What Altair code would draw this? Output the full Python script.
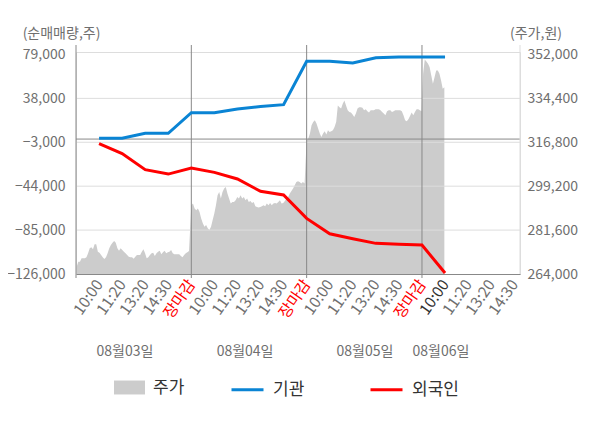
import altair as alt
import pandas as pd
import numpy as np

FONT = "Noto Sans CJK KR"

# ---- data ----
time_labels = ["10:00", "11:20", "13:20", "14:30", "장마감",
               "10:00", "11:20", "13:20", "14:30", "장마감",
               "10:00", "11:20", "13:20", "14:30", "장마감",
               "10:00", "11:20", "13:20", "14:30"]
tick_pos = list(range(1, 20))

line_pos = list(range(1, 17))
inst = [700, 700, 5400, 5400, 24600, 24600, 28000, 30500, 32100,
        72700, 72700, 71100, 76000, 76700, 76700, 76700]
foreign = [-4200, -13600, -28600, -32700, -27000, -31100, -37300, -48800, -52200,
           -74100, -88400, -93000, -97400, -98300, -99000, -125000]

price_day1 = [266900, 268900, 268900, 270300, 270300, 270300, 270700, 272300, 274300, 274700,
              273900, 275900, 275900, 272900, 272500, 271600, 270700, 270000, 270700, 272300,
              274300, 275600, 276500, 277200, 276500, 274300, 273300, 274300, 273600, 272900,
              272300, 271600, 270900, 270700, 270700, 270100, 270900, 271600, 271600, 271600,
              272900, 273900, 272300, 270300, 270700, 271600, 272300, 272500, 271200, 272300,
              272900, 273300, 271900, 272700, 273300, 272300, 272700, 272900, 273600, 272300,
              271900, 271900, 271900, 271900, 271200, 270700, 271600, 272300, 272700, 273200]
price_day2 = [291600, 292300, 290300, 289600, 290300, 288900, 286300, 284300, 282900, 283600,
              282300, 281600, 282900, 285600, 288300, 291600, 295600, 296900, 294300, 296900,
              298300, 298900, 296300, 294300, 292300, 292900, 292900, 293600, 294900, 294300,
              295600, 294300, 294900, 293600, 294300, 292900, 293300, 292500, 292900, 291200,
              290900, 290700, 290900, 291200, 291600, 291200, 292300, 291600, 292500, 291600,
              292300, 292500, 292300, 292900, 293600, 292300, 292500, 293300, 294300, 294900,
              296300, 297300, 298300, 299600, 300900, 301200, 300900, 300300, 300900, 300300]
price_day3 = [317600, 318300, 320300, 323600, 324900, 325600, 324300, 322300, 320300, 318900,
              320300, 321200, 319900, 321600, 320900, 321200, 321600, 322900, 324900, 331600,
              330900, 330300, 332300, 333600, 331600, 329600, 328900, 328700, 327900, 326900,
              328300, 330300, 330900, 330900, 330700, 329600, 330000, 329200, 328700, 329600,
              329600, 329600, 330000, 330000, 330000, 329600, 328900, 328300, 327600, 329200,
              329600, 329600, 328900, 329200, 329600, 329600, 329600, 329600, 329200, 327600,
              325600, 325200, 326000, 327300, 328700, 327600, 328900, 330000, 330000, 329600, 329200]
price_day4 = [344300, 350000, 349200, 348300, 346900, 343600, 340300, 342900, 345600, 345600,
              344300, 341600, 338300, 338900]
day_spans = [(0.03, 4.9), (5.0, 9.91), (10.0, 14.98), (15.05, 15.97)]

date_labels = ["08월03일", "08월04일", "08월05일", "08월06일"]
date_pos = [2.12, 7.33, 12.53, 15.82]
day_bounds = [0, 5, 10, 15]
x_max = 19.25

left_ticks = [-126000, -85000, -44000, -3000, 38000, 79000]
right_ticks = [264000, 281600, 299200, 316800, 334400, 352000]
grid_vals = [-85000, -44000, -3000, 38000]

# ---- tables ----
pxs, pvs = [], []
for vals, (s, e) in zip([price_day1, price_day2, price_day3, price_day4], day_spans):
    pxs.extend(np.linspace(s, e, len(vals)).tolist())
    pvs.extend(vals)
price_df = pd.DataFrame({"x": pxs, "price": pvs, "series": "주가"})

lines_df = pd.concat([
    pd.DataFrame({"x": line_pos, "value": inst, "series": "기관"}),
    pd.DataFrame({"x": line_pos, "value": foreign, "series": "외국인"}),
])
dates_df = pd.DataFrame({"x": date_pos, "label": date_labels})
bounds_df = pd.DataFrame({"x": day_bounds})
edge_df = pd.DataFrame({"x": [x_max]})
grid_df = pd.DataFrame({"v": grid_vals})
zero_df = pd.DataFrame({"v": [0]})

W, H = 444, 222
xscale = alt.Scale(domain=[0, x_max], nice=False, zero=False)
yl = alt.Scale(domain=[-126000, 81300], nice=False, zero=False)
yr = alt.Scale(domain=[264000, 353000], nice=False, zero=False)

label_expr = "[" + ",".join("'%s'" % t for t in time_labels) + "][datum.value - 1]"
x_axis = alt.Axis(
    values=tick_pos, labelExpr=label_expr, labelAngle=-55, labelFontSize=15.5,
    labelFont=FONT, labelOverlap=False, labelPadding=7, ticks=False, grid=False,
    domainColor="#888888", title=None,
    labelColor={"condition": [{"test": "datum.value % 5 == 0", "value": "#ff0000"},
                              {"test": "datum.value == 16", "value": "#333333"}],
                "value": "#6f6f6f"},
)
left_axis = alt.Axis(
    orient="left", values=left_ticks, format=",d", domain=False, ticks=False, grid=False,
    labelFontSize=14, labelFont=FONT, labelColor="#6f6f6f", labelPadding=11,
    title="(순매매량,주)", titleAngle=0, titleX=-15, titleY=-19, titleAlign="center",
    titleBaseline="middle", titleFontSize=14, titleFontWeight="normal", titleFont=FONT,
    titleColor="#6f6f6f",
)
right_axis = alt.Axis(
    orient="right", values=right_ticks, format=",d", domain=False, ticks=False, grid=False,
    labelFontSize=14, labelFont=FONT, labelColor="#6f6f6f", labelPadding=7,
    title="(주가,원)", titleAngle=0, titleX=15.5, titleY=-19, titleAlign="center",
    titleBaseline="middle", titleFontSize=14, titleFontWeight="normal", titleFont=FONT,
    titleColor="#6f6f6f",
)

X = alt.X("x:Q", scale=xscale, axis=x_axis)

price_area = alt.Chart(price_df).mark_area(interpolate="linear").encode(
    x=X,
    y=alt.Y("price:Q", scale=yr, axis=right_axis),
    y2=alt.datum(264000),
    fill=alt.Fill("series:N", scale=alt.Scale(domain=["주가"], range=["#cccccc"]),
                  legend=alt.Legend(orient="none", legendX=38, legendY=320, title=None,
                                    symbolType="M-1,-0.45H1V0.45H-1Z", symbolSize=961,
                                    symbolStrokeWidth=0, labelFontSize=17, labelFont=FONT,
                                    labelColor="#333333", labelOffset=8, padding=0)),
)

grid = alt.Chart(grid_df).mark_rule(color="#dddddd", strokeWidth=1).encode(
    x=alt.value(0), x2=alt.value(W),
    y=alt.Y("v:Q", scale=yl, axis=left_axis),
)
zero = alt.Chart(zero_df).mark_rule(color="#888888", strokeWidth=1).encode(
    x=alt.value(0), x2=alt.value(W),
    y=alt.Y("v:Q", scale=yl, axis=left_axis),
)
bounds = alt.Chart(bounds_df).mark_rule(color="#888888", strokeWidth=1).encode(
    x=X, y=alt.value(-7), y2=alt.value(H + 4),
)
edge = alt.Chart(edge_df).mark_rule(color="#dddddd", strokeWidth=1).encode(
    x=X, y=alt.value(-7), y2=alt.value(H),
)
lines = alt.Chart(lines_df).mark_line(strokeWidth=3).encode(
    x=X,
    y=alt.Y("value:Q", scale=yl, axis=left_axis),
    stroke=alt.Stroke("series:N",
                      scale=alt.Scale(domain=["기관", "외국인"], range=["#0a84d4", "#ff0000"]),
                      legend=alt.Legend(orient="none", legendX=154, legendY=320, title=None,
                                        direction="horizontal", symbolType="stroke",
                                        symbolSize=1024, symbolStrokeWidth=3,
                                        labelFontSize=17, labelFont=FONT,
                                        labelColor="#333333", labelOffset=8,
                                        columnPadding=59, padding=0)),
    detail="series:N",
)
dates = alt.Chart(dates_df).mark_text(fontSize=14, font=FONT, color="#6f6f6f",
                                      baseline="middle", align="center").encode(
    x=X, y=alt.value(300), text="label:N",
)

left_group = alt.layer(grid, zero, bounds, edge, lines, dates)

chart = alt.layer(price_area, left_group).resolve_scale(y="independent").properties(
    width=W, height=H,
    padding={"left": 68, "top": 44, "right": 72, "bottom": 146},
    autosize=alt.AutoSizeParams(type="none"),
).configure_view(fill="#f5f5f5", stroke="transparent").configure(font=FONT)

chart.save("out.html", embed_options={"renderer": "svg", "actions": False})
